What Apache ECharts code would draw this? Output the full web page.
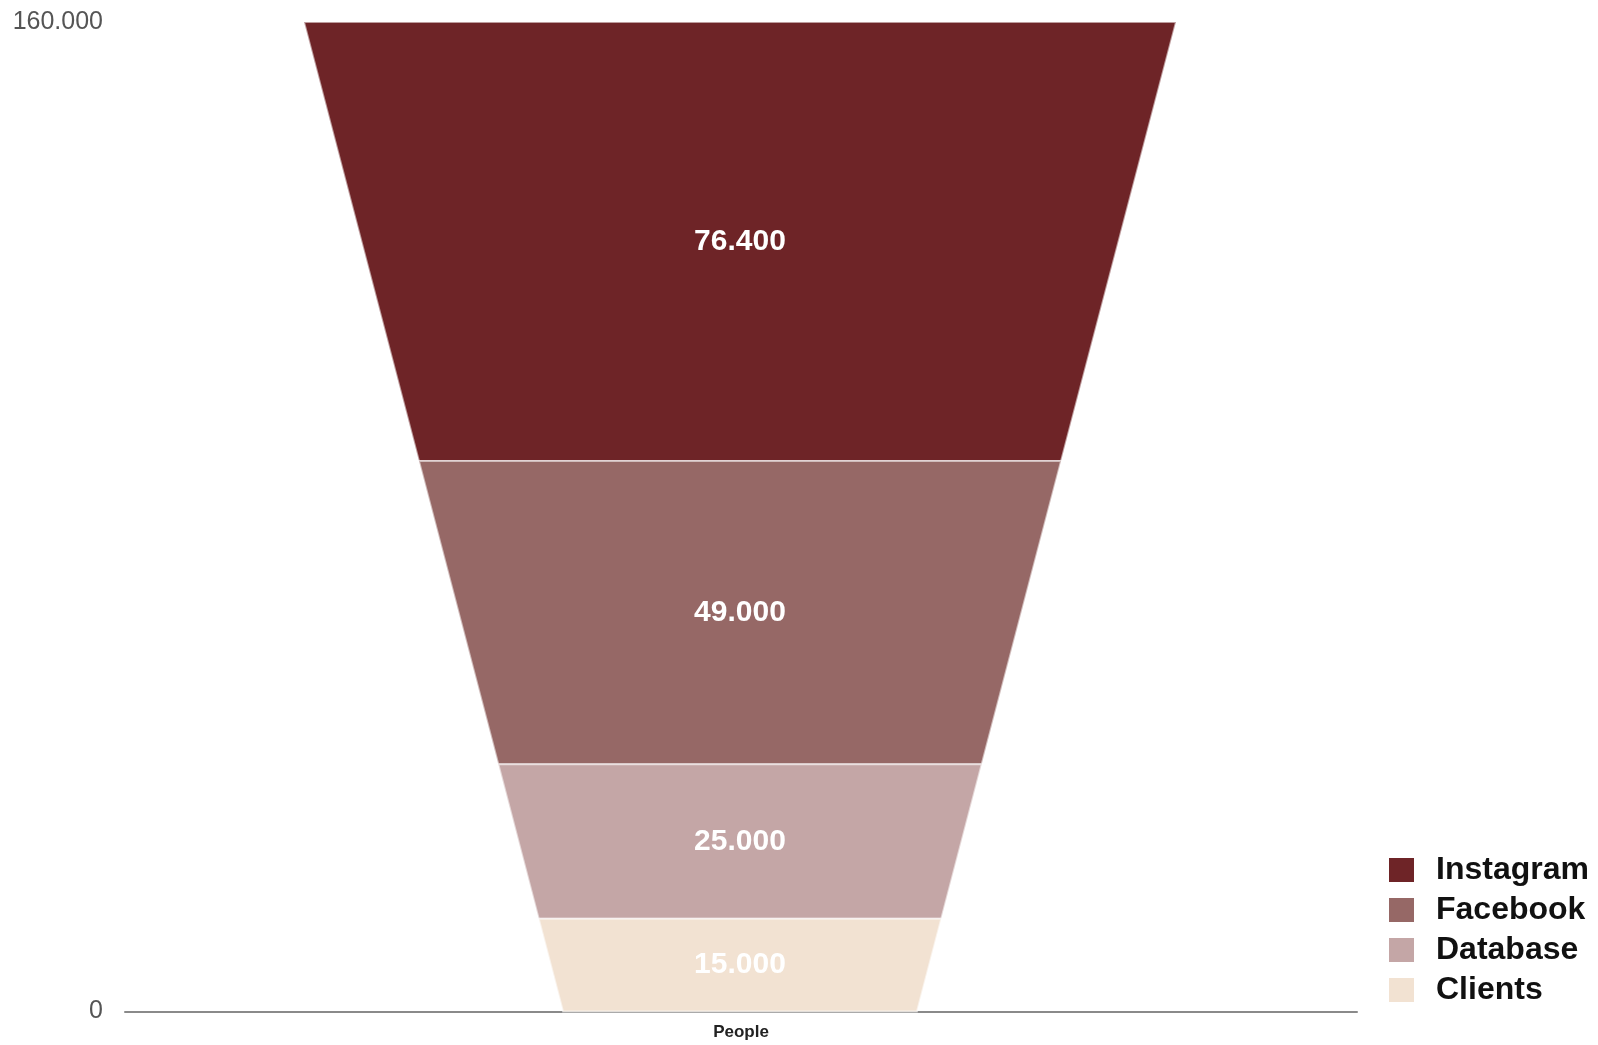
<!DOCTYPE html>
<html>
<head>
<meta charset="utf-8">
<script src="https://cdn.jsdelivr.net/npm/echarts@6/dist/echarts.min.js"></script>
<style>
html,body{margin:0;padding:0;background:#fff;}
#chart{width:1598px;height:1045px;}
</style>
</head>
<body>
<div id="chart"></div>
<script>
// ---- data ----
const categories = ['People'];
const seriesNames = ['Instagram', 'Facebook', 'Database', 'Clients'];
const seriesValues = [76400, 49000, 25000, 15000];
const seriesColors = ['#6E2427', '#966866', '#C4A6A6', '#F2E2D2'];
const yTicks = [0, 160000];

const Y_MAX = yTicks[yTicks.length - 1];
const BOTTOM_FRAC = 0.2873;
const TOP_FRAC = 0.7078;

function fmt(v) {
  return String(v).replace(/\B(?=(\d{3})+(?!\d))/g, '.');
}

// stack from bottom (last item) upward
const stacks = [];
let acc = 0;
for (let i = seriesValues.length - 1; i >= 0; i--) {
  stacks[i] = [acc, acc + seriesValues[i]];
  acc += seriesValues[i];
}

function renderItem(params, api) {
  const xi = api.value(0);
  const s = Math.min(api.value(1), Y_MAX);
  const e = Math.min(api.value(2), Y_MAX);
  const val = api.value(3);
  const band = api.size([1, 0])[0];
  const cx = api.coord([xi, 0])[0] - 1;
  const hw = v => band * (BOTTOM_FRAC + (TOP_FRAC - BOTTOM_FRAC) * v / Y_MAX) / 2;
  const yb = api.coord([xi, s])[1];
  const yt = api.coord([xi, e])[1];
  return {
    type: 'group',
    children: [
      {
        type: 'polygon',
        shape: { points: [[cx - hw(s), yb], [cx + hw(s), yb], [cx + hw(e), yt], [cx - hw(e), yt]] },
        style: { fill: api.visual('color'), stroke: 'rgba(255,255,255,0.55)', lineWidth: 2 }
      },
      {
        type: 'text',
        x: cx, y: (yb + yt) / 2,
        style: {
          text: fmt(val), fill: '#ffffff', align: 'center', verticalAlign: 'middle',
          font: 'bold 30px "Liberation Sans", Arial, sans-serif'
        }
      }
    ]
  };
}

const series = seriesNames.map((name, i) => ({
  name: name,
  type: 'custom',
  renderItem: renderItem,
  itemStyle: { color: seriesColors[i] },
  encode: { x: 0, y: [1, 2] },
  data: [[0, stacks[i][0], stacks[i][1], seriesValues[i]]],
  clip: false,
  z: 2
}));

const chart = echarts.init(document.getElementById('chart'));
chart.setOption({
  animation: false,
  backgroundColor: '#ffffff',
  grid: { left: 125, right: 241, top: 22, bottom: 33.5, containLabel: false },
  legend: {
    orient: 'vertical',
    left: 1389, top: 854,
    padding: 0,
    itemWidth: 25, itemHeight: 24, itemGap: 8,
    icon: 'rect',
    data: seriesNames,
    textStyle: {
      fontFamily: '"Liberation Sans", Arial, sans-serif',
      fontWeight: 'bold', fontSize: 32, lineHeight: 32, color: '#111',
      padding: [0, 0, 0, 17]
    }
  },
  xAxis: {
    type: 'category',
    data: categories,
    axisLine: { lineStyle: { color: '#8a8a8a', width: 2 } },
    axisTick: { show: false },
    axisLabel: {
      margin: 12, fontSize: 17, fontWeight: 'bold', color: '#222',
      fontFamily: '"Liberation Sans", Arial, sans-serif'
    },
    splitLine: { show: false }
  },
  yAxis: {
    type: 'value',
    min: yTicks[0], max: Y_MAX, interval: Y_MAX - yTicks[0],
    axisLine: { show: false },
    axisTick: { show: false },
    splitLine: { show: false },
    axisLabel: {
      margin: 22, fontSize: 25, color: '#555',
      fontFamily: '"Liberation Sans", Arial, sans-serif',
      formatter: v => fmt(v)
    }
  },
  series: series
});
</script>
</body>
</html>
